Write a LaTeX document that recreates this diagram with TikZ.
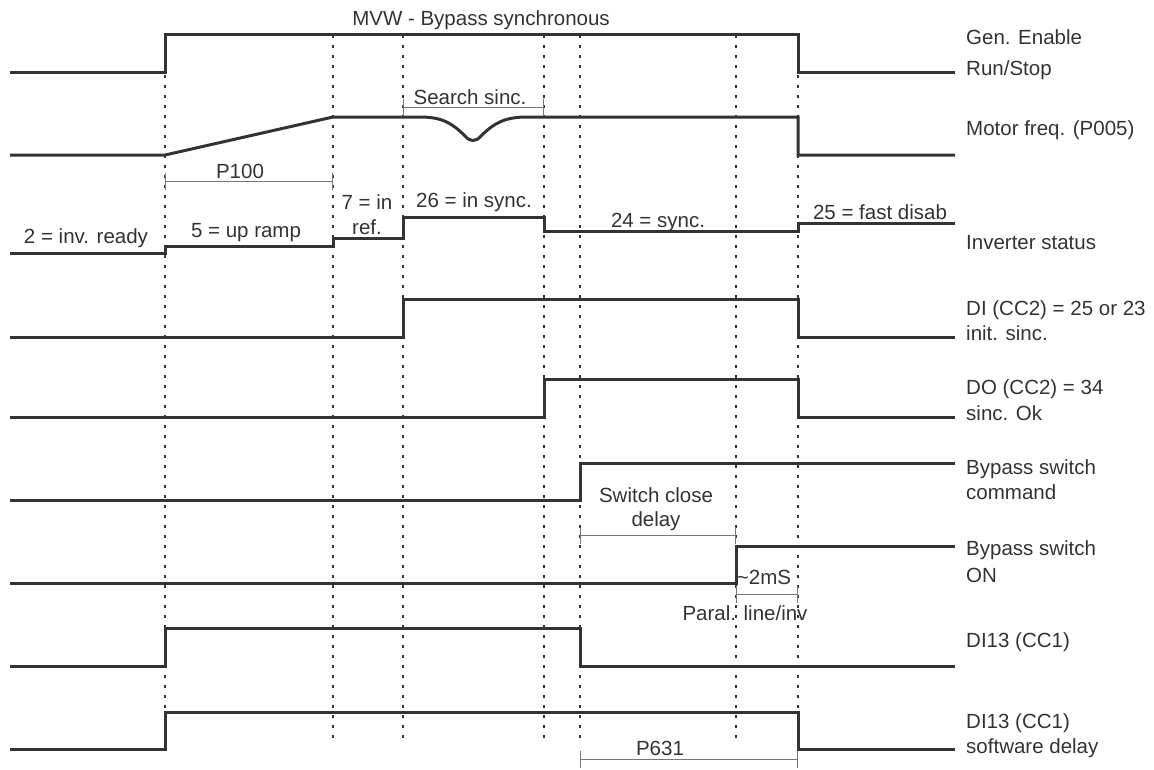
\documentclass[tikz,border=0pt]{standalone}
\usepackage{fontspec}
\setmainfont{Liberation Sans}
\usepackage{xcolor}
\usetikzlibrary{arrows.meta}
\definecolor{ink}{HTML}{333333}
\definecolor{spangrey}{HTML}{777777}
\tikzset{
  signal/.style={
    draw=ink,
    line width=3pt,
    line join=miter
  },
  guide/.style={
    draw=ink,
    line width=1.5pt,
    dash pattern=on 3pt off 7pt
  },
  span/.style={
    draw=spangrey,
    line width=1pt,
    {Bar[width=17pt]}-{Bar[width=17pt]}
  },
  lbl/.style={
    text=ink,
    inner sep=0pt,
    font=\fontsize{20.5}{24}\selectfont
  },
  signame/.style={
    lbl,
    anchor=base west
  }
}

\begin{document}
\begin{tikzpicture}[x=1pt,y=-1pt]
        \useasboundingbox (0,0) rectangle (1154,769);
        % time marks
        \draw[guide] (165,35)--(165,712);
        \foreach \t in {333,403,544,580,736,798}
          \draw[guide] (\t,35)--(\t,745);
        % signals
        \draw[signal] (10,72)--(165,72)--(165,34)--(798,34)--(798,72)--(955,72);
        \draw[signal] (10,155)--(165,155)--(333,117)--(420,117)
          .. controls (442,117) and (452,123) .. (465,136)
          .. controls (470,142) and (476,142) .. (481,136)
          .. controls (494,123) and (505,117) .. (527,117)
          --(798,117)--(798,155)--(955,155);
        \draw[signal] (10,253)--(165,253)--(165,246)--(333,246)--(333,238)--(403,238)
          --(403,217)--(544,217)--(544,231)--(798,231)--(798,223)--(955,223);
        \draw[signal] (10,337)--(403,337)--(403,299)--(798,299)--(798,337)--(955,337);
        \draw[signal] (10,417)--(544,417)--(544,379)--(798,379)--(798,417)--(955,417);
        \draw[signal] (10,500)--(580,500)--(580,463)--(955,463);
        \draw[signal] (10,583)--(736,583)--(736,546)--(955,546);
        \draw[signal] (10,666)--(165,666)--(165,628)--(580,628)--(580,666)--(955,666);
        \draw[signal] (10,749)--(165,749)--(165,712)--(798,712)--(798,749)--(955,749);
        % intervals
        \draw[span] (165,181)--(333,181);
        \draw[span] (403,107)--(544,107);
        \draw[span] (580,535)--(736,535);
        \draw[span] (736,594)--(798,594);
        \draw[span] (580,759)--(798,759);
        % texts in the plot
        \node[lbl, anchor=base] (title) at (481,25) {MVW - Bypass synchronous};
        \node[lbl, anchor=base] (search) at (470,104) {Search sinc.};
        \node[lbl, anchor=base] (p100) at (240,178) {P100};
        \node[lbl, anchor=base] (st2) at (86,243) {2 = inv. ready};
        \node[lbl, anchor=base] (st5) at (246,237) {5 = up ramp};
        \node[lbl, anchor=base] (st7a) at (367,209) {7 = in};
        \node[lbl, anchor=base] (st7b) at (367,234) {ref.};
        \node[lbl, anchor=base] (st26) at (474,207) {26 = in sync.};
        \node[lbl, anchor=base] (st24) at (658,227) {24 = sync.};
        \node[lbl, anchor=base] (st25) at (880,219) {25 = fast disab};
        \node[lbl, anchor=base] (closea) at (656,502) {Switch close};
        \node[lbl, anchor=base] (closeb) at (656,526) {delay};
        \node[lbl, anchor=base] (twoms) at (764,584) {\textasciitilde 2mS};
        \node[lbl, anchor=base] (paral) at (745,620) {Paral. line/inv};
        \node[lbl, anchor=base] (p631) at (660,755) {P631};
        % signal names
        \node[signame] (gen) at (966,44) {Gen. Enable};
        \node[signame] (run) at (966,75) {Run/Stop};
        \node[signame] (motor) at (966,135) {Motor freq. (P005)};
        \node[signame] (inv) at (966,249) {Inverter status};
        \node[signame] (dia) at (966,315) {DI (CC2) = 25 or 23};
        \node[signame] (dib) at (966,340) {init. sinc.};
        \node[signame] (doa) at (966,394) {DO (CC2) = 34};
        \node[signame] (dob) at (966,420) {sinc. Ok};
        \node[signame] (cmda) at (966,474) {Bypass switch};
        \node[signame] (cmdb) at (966,499) {command};
        \node[signame] (ona) at (966,555) {Bypass switch};
        \node[signame] (onb) at (966,582) {ON};
        \node[signame] (dix) at (966,647) {DI13 (CC1)};
        \node[signame] (diya) at (966,728) {DI13 (CC1)};
        \node[signame] (diyb) at (966,753) {software delay};
\end{tikzpicture}
\end{document}
